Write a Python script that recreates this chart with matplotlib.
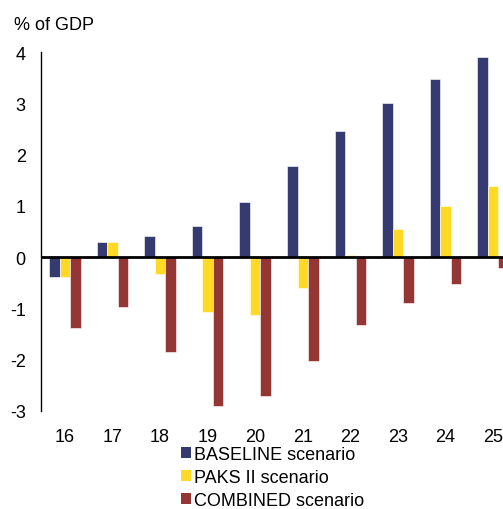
import numpy as np
import matplotlib
matplotlib.use("Agg")
import matplotlib.pyplot as plt
from matplotlib.patches import Patch

plt.rcParams['font.family'] = ['Liberation Sans', 'DejaVu Sans']
plt.rcParams['axes.unicode_minus'] = False

years = ["16", "17", "18", "19", "20", "21", "22", "23", "24", "25"]
baseline = [-0.39, 0.29, 0.42, 0.60, 1.08, 1.77, 2.46, 3.00, 3.48, 3.91]
paks = [-0.39, 0.29, -0.33, -1.07, -1.12, -0.60, 0.05, 0.55, 0.99, 1.38]
combined = [-1.38, -0.97, -1.84, -2.90, -2.71, -2.03, -1.33, -0.90, -0.53, -0.21]

labels = ["BASELINE scenario", "PAKS II scenario", "COMBINED scenario"]
colors = ["#353A70", "#FFD923", "#943634"]

fig = plt.figure(figsize=(5.03, 5.10), dpi=100)
# axes run past the right edge, the original is cut off there
ax = fig.add_axes([41 / 503, 98 / 510, 476 / 503, 359 / 510])

x = np.arange(len(years))
w = 0.22
for i, (vals, c) in enumerate(zip([baseline, paks, combined], colors)):
    ax.bar(x + (i - 1) * w, vals, width=w, color=c, edgecolor="white", linewidth=0.4, zorder=2)

ax.axhline(0, color="black", linewidth=2, zorder=3)
ax.set_xlim(-0.5, 9.5)
ax.set_ylim(-3, 4)
ax.set_yticks(range(-3, 5))
ax.set_xticks(x)
ax.set_xticklabels(years)
ax.tick_params(axis="both", length=0, labelsize=13)
ax.tick_params(axis="y", pad=11)
ax.tick_params(axis="x", pad=12)
for s in ["top", "right", "bottom"]:
    ax.spines[s].set_visible(False)
ax.spines["left"].set_linewidth(1)

fig.text(14 / 503, 1 - 25 / 510, "% of GDP", fontsize=13, va="center", ha="left")

handles = [Patch(facecolor=c, label=l) for c, l in zip(colors, labels)]
fig.legend(handles=handles, loc="upper left", bbox_to_anchor=(181 / 503, 1 - 447 / 510),
           frameon=False, fontsize=13, handlelength=0.55, handleheight=0.55,
           handletextpad=0.15, labelspacing=0.33, borderpad=0, borderaxespad=0)

fig.savefig("out.png", dpi=100)
